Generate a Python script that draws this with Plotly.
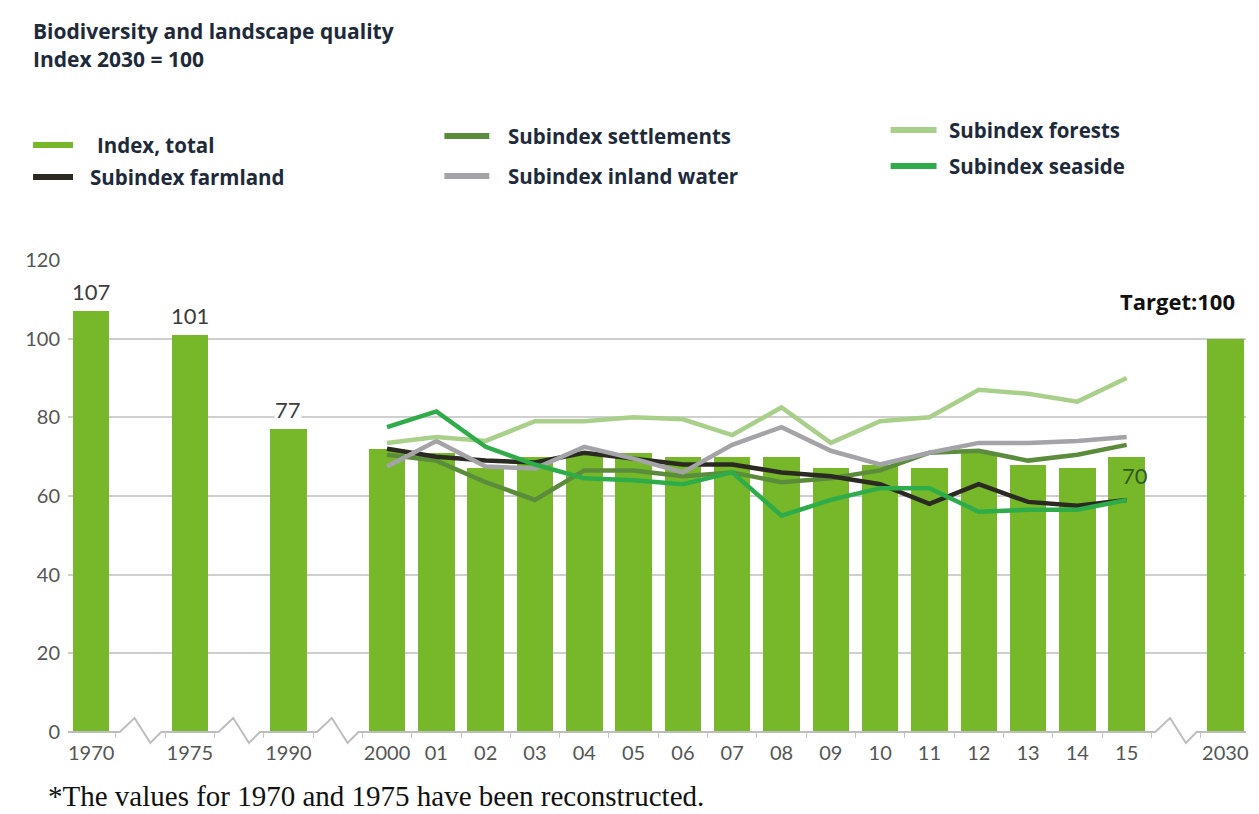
import plotly.graph_objects as go

# ---- data -----------------------------------------------------------------
years = [1970, 1975, 1990, 2000, 2001, 2002, 2003, 2004, 2005, 2006, 2007,
         2008, 2009, 2010, 2011, 2012, 2013, 2014, 2015, 2030]
tick_labels = ["1970", "1975", "1990", "2000", "01", "02", "03", "04", "05",
               "06", "07", "08", "09", "10", "11", "12", "13", "14", "15", "2030"]
index_total = [107, 101, 77, 72, 71, 67, 70, 71, 71, 70, 70,
               70, 67, 68, 67, 71, 68, 67, 70, 100]

sub_years = [2000, 2001, 2002, 2003, 2004, 2005, 2006, 2007,
             2008, 2009, 2010, 2011, 2012, 2013, 2014, 2015]
farmland = [72, 70, 69, 68.5, 71, 69.5, 68, 68, 66, 65, 63, 58, 63, 58.5, 57.5, 59]
settlements = [70.5, 69, 63.5, 59, 66.5, 66.5, 65, 66, 63.5, 64.5, 66.5, 71, 71.5, 69, 70.5, 73]
inland_water = [67.5, 74, 67.5, 67, 72.5, 69.5, 66, 73, 77.5, 71.5, 68, 71, 73.5, 73.5, 74, 75]
forests = [73.5, 75, 74, 79, 79, 80, 79.5, 75.5, 82.5, 73.5, 79, 80, 87, 86, 84, 90]
seaside = [77.5, 81.5, 72.5, 68, 64.5, 64, 63, 66, 55, 59, 62, 62, 56, 56.5, 56.5, 59]

title_lines = ["Biodiversity and landscape quality", "Index 2030 = 100"]
footnote = "*The values for 1970 and 1975 have been reconstructed."

# ---- styling --------------------------------------------------------------
BAR = "#76b82a"
COLORS = {
    "Index, total": BAR,
    "Subindex farmland": "#2a2a22",
    "Subindex settlements": "#5b8c3c",
    "Subindex inland water": "#a3a3a8",
    "Subindex forests": "#a9d08a",
    "Subindex seaside": "#2fac4a",
}
FONT = "Lato"
HEAD_FONT = "Open Sans"
TEXT_DARK = "#1e2a3a"
GRID = "#cfcfcf"

# plot area in pixels (used for the paper-positioned decorations)
L, R, T, B = 68, 1248, 260, 732
PW, PH = R - L, B - T


def px_x(px):
    return (px - L) / PW


def px_y(py):
    return (B - py) / PH


# slot positions: a blank slot is left wherever the year sequence jumps
pos = []
p = 0
for i, yr in enumerate(years):
    if i > 0:
        p += 2 if yr - years[i - 1] > 1 else 1
    pos.append(p)
pos_of = dict(zip(years, pos))
sub_pos = [pos_of[y] for y in sub_years]

fig = go.Figure()
fig.add_trace(go.Bar(x=pos, y=index_total, marker_color=BAR, width=0.74,
                     marker_line_width=0, hoverinfo="skip"))

for name, vals in [("Subindex settlements", settlements),
                   ("Subindex farmland", farmland),
                   ("Subindex inland water", inland_water),
                   ("Subindex forests", forests),
                   ("Subindex seaside", seaside)]:
    fig.add_trace(go.Scatter(x=sub_pos, y=vals, mode="lines", name=name,
                             line=dict(color=COLORS[name], width=4.5)))

x_min, x_max = -0.47, pos[-1] + 0.42

# baseline with break marks in the gaps
gap_centres = [(pos[i] + pos[i + 1]) / 2 for i in range(len(pos) - 1)
               if pos[i + 1] - pos[i] > 1]
up, down = 14 / PH, -11 / PH
path = f"M {x_min},0"
for c in gap_centres:
    path += (f" L {c - 0.42},0 L {c - 0.12},{up} L {c + 0.2},{down}"
             f" L {c + 0.42},0")
path += f" L {x_max},0"
shapes = [dict(type="path", path=path, xref="x", yref="paper",
               line=dict(color="#bdbdbd", width=2))]

annotations = []
# title
for i, t in enumerate(title_lines):
    annotations.append(dict(text=t, xref="paper", yref="paper", x=px_x(31),
                            y=px_y(31 + 28 * i), xanchor="left",
                            yanchor="middle", showarrow=False,
                            font=dict(family=HEAD_FONT, size=21, color=TEXT_DARK,
                                      weight="bold")))

# hand-built legend
legend_items = [
    ("Index, total", 33, 73, 95, 145),
    ("Subindex farmland", 33, 73, 88, 177),
    ("Subindex settlements", 445, 490, 507, 136),
    ("Subindex inland water", 445, 490, 507, 176),
    ("Subindex forests", 892, 938, 948, 130),
    ("Subindex seaside", 892, 938, 948, 166),
]
for name, l0, l1, tx, ty in legend_items:
    shapes.append(dict(type="line", xref="paper", yref="paper",
                       x0=px_x(l0), x1=px_x(l1), y0=px_y(ty), y1=px_y(ty),
                       line=dict(color=COLORS[name], width=6)))
    annotations.append(dict(text=name, xref="paper", yref="paper", x=px_x(tx),
                            y=px_y(ty), xanchor="left", yanchor="middle",
                            showarrow=False,
                            font=dict(family=HEAD_FONT, size=20.5, color=TEXT_DARK,
                                      weight="bold")))

# value labels
for yr in (1970, 1975, 1990):
    i = years.index(yr)
    annotations.append(dict(text=str(index_total[i]), x=pos[i], y=index_total[i],
                            xref="x", yref="y", yanchor="bottom", yshift=5,
                            showarrow=False, bgcolor="white", borderpad=0,
                            font=dict(family=FONT, size=22, color="#3c3c3c")))
i15 = years.index(2015)
annotations.append(dict(text=str(index_total[i15]), x=pos[i15], y=index_total[i15],
                        xref="x", yref="y", yanchor="top", yshift=-3, xshift=8,
                        showarrow=False,
                        font=dict(family=FONT, size=22, color="#2f5a1a")))
i30 = years.index(2030)
annotations.append(dict(text=f"Target:{index_total[i30]}", x=pos[i30],
                        y=index_total[i30], xref="x", yref="y",
                        xanchor="right", yanchor="bottom", xshift=12, yshift=21,
                        showarrow=False,
                        font=dict(family=HEAD_FONT, size=22, color="#111111",
                                  weight="bold")))

annotations.append(dict(text=footnote, xref="paper", yref="paper", x=px_x(46),
                        y=px_y(796), xanchor="left", yanchor="middle",
                        showarrow=False,
                        font=dict(family="Liberation Serif", size=29,
                                  color="#111111")))

boundaries = sorted({round(p + d, 2) for p in pos for d in (-0.5, 0.5)})

fig.update_layout(
    width=1259, height=814,
    margin=dict(l=L, r=1259 - R, t=T, b=814 - B),
    paper_bgcolor="white", plot_bgcolor="white",
    showlegend=False,
    bargap=0,
    shapes=shapes,
    annotations=annotations,
    xaxis=dict(range=[x_min, x_max], tickmode="array", tickvals=pos,
               ticktext=tick_labels, ticks="", showgrid=False, zeroline=False,
               showline=False, ticklabelstandoff=7,
               tickfont=dict(family=FONT, size=20, color="#555555"),
               minor=dict(tickmode="array", tickvals=boundaries,
                          ticks="outside", ticklen=5, tickcolor="#c4c4c4",
                          tickwidth=1, showgrid=False)),
    yaxis=dict(range=[0, 120], tickvals=[0, 20, 40, 60, 80, 100, 120],
               showgrid=True, gridcolor=GRID, gridwidth=2, zeroline=False,
               showline=False, ticks="", ticklabelstandoff=7,
               tickfont=dict(family=FONT, size=20, color="#555555")),
)

fig.write_html("out.html")
